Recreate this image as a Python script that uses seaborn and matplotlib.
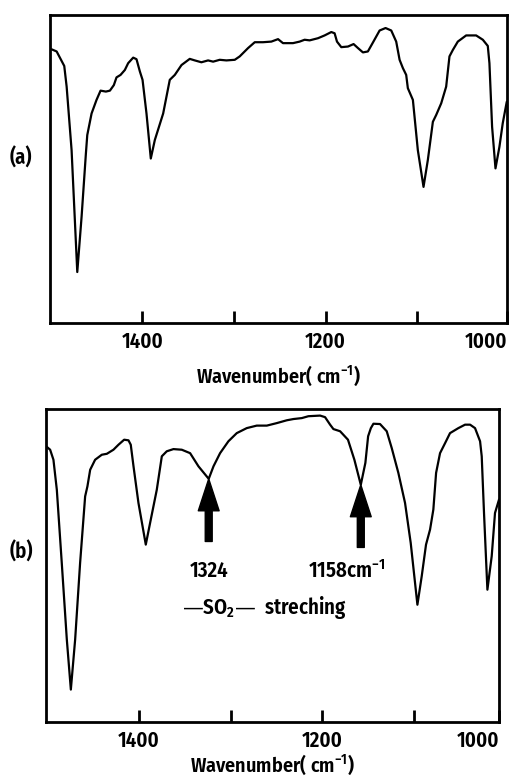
import matplotlib
matplotlib.use("Agg")
import matplotlib.pyplot as plt
import seaborn as sns

# ---- data (wavenumber in cm-1, relative transmittance 0-100) ----
wn_a = [1498.8, 1493.3, 1485.0, 1482.4, 1477.0, 1470.8, 1466.1, 1461.4, 1459.9, 1455.2,
        1449.8, 1445.4, 1439.6, 1435.2, 1430.9, 1428.0, 1423.6, 1418.9, 1415.3, 1409.8,
        1406.2, 1402.5, 1399.6, 1395.3, 1390.6, 1386.2, 1377.1, 1369.9, 1364.4, 1357.1,
        1348.1, 1342.6, 1335.4, 1328.1, 1322.6, 1315.4, 1308.1, 1299.0, 1293.6, 1284.5,
        1277.2, 1268.2, 1259.1, 1251.8, 1246.4, 1235.5, 1228.2, 1222.8, 1217.3, 1208.2,
        1201.0, 1193.7, 1190.1, 1187.5, 1182.8, 1175.5, 1169.4, 1164.6, 1159.2, 1153.8,
        1148.3, 1141.0, 1134.5, 1128.3, 1122.9, 1119.2, 1115.6, 1112.0, 1110.2, 1104.7,
        1099.3, 1093.1, 1088.4, 1082.9, 1079.3, 1073.8, 1068.4, 1064.8, 1061.1, 1055.7,
        1046.6, 1035.7, 1028.4, 1023.0, 1021.2, 1018.3, 1014.6, 1010.3, 1006.7, 1002.3]
tr_a = [88.8, 88.1, 83.4, 76.7, 56.1, 16.6, 34.5, 55.0, 61.0, 68.0,
        72.4, 75.4, 75.1, 75.4, 77.2, 79.7, 80.5, 82.1, 84.3, 86.1,
        85.6, 81.6, 78.9, 68.0, 53.4, 59.4, 68.0, 78.9, 80.5, 83.7,
        85.7, 85.2, 84.6, 85.2, 84.8, 85.4, 85.2, 85.4, 86.5, 89.2,
        91.1, 91.1, 91.3, 92.1, 90.8, 90.8, 91.3, 91.9, 91.7, 92.4,
        93.3, 94.4, 94.0, 91.3, 89.5, 89.7, 90.5, 89.2, 87.8, 88.1,
        91.0, 94.9, 95.7, 94.9, 91.3, 85.4, 82.7, 80.5, 76.2, 72.4,
        56.1, 44.2, 52.9, 65.3, 67.5, 71.3, 76.7, 86.5, 88.6, 91.3,
        93.3, 93.3, 91.9, 89.9, 84.3, 63.7, 50.2, 57.2, 64.8, 71.8]

wn_b = [1500.7, 1497.1, 1493.5, 1489.8, 1484.4, 1478.9, 1474.5, 1469.8, 1464.4, 1458.9,
        1456.4, 1453.4, 1448.0, 1440.7, 1435.2, 1428.0, 1422.5, 1416.3, 1411.6, 1409.1,
        1406.1, 1400.7, 1392.7, 1388.0, 1380.7, 1375.2, 1369.8, 1362.5, 1353.4, 1344.3,
        1335.2, 1324.0, 1318.8, 1311.6, 1302.5, 1293.4, 1282.5, 1271.6, 1260.6, 1249.7,
        1238.8, 1231.5, 1222.4, 1215.2, 1202.4, 1197.0, 1191.5, 1187.9, 1180.6, 1172.0,
        1165.0, 1158.0, 1153.0, 1150.0, 1147.0, 1144.2, 1137.0, 1129.7, 1124.2, 1117.0,
        1109.7, 1103.5, 1096.2, 1091.5, 1086.8, 1082.4, 1078.8, 1075.8, 1071.5, 1066.0,
        1060.6, 1051.5, 1044.2, 1038.7, 1033.3, 1027.8, 1026.0, 1023.5, 1019.8, 1015.1,
        1011.5, 1007.1]
tr_b = [87.8, 86.9, 83.7, 74.1, 50.7, 26.3, 10.3, 26.3, 50.7, 72.0,
        75.2, 80.5, 83.7, 85.3, 85.6, 86.9, 88.5, 90.1, 89.9, 88.5,
        81.6, 69.9, 56.6, 63.5, 74.1, 84.8, 86.4, 87.1, 86.9, 85.8,
        81.6, 77.6, 81.6, 85.8, 89.6, 92.2, 93.8, 94.6, 94.6, 95.4,
        96.3, 96.7, 97.0, 97.6, 97.8, 97.3, 94.9, 93.5, 92.8, 90.1,
        83.7, 75.7, 82.7, 91.2, 93.8, 95.2, 95.1, 92.8, 87.4, 79.5,
        69.9, 57.1, 37.4, 46.5, 56.6, 61.4, 67.8, 79.5, 85.8, 89.0,
        92.2, 93.8, 94.9, 94.9, 93.8, 89.6, 84.8, 66.7, 42.2, 52.9,
        66.7, 71.0]

peak_wn = [1324.0, 1158.0]
peak_labels = ["1324", "1158cm$^{\\mathregular{-1}}$"]
band_label = "\u2014SO$_{\\mathregular{2}}$\u2014  streching"
panel_labels = ["(a)", "(b)"]
tick_values = [1400, 1300, 1200, 1100]
tick_labels = ["1400", "", "1200", "", "1000"]
xlabel = "Wavenumber( cm$^{\\mathregular{-1}}$)"

# ---- style ----
sns.set_theme(style="white")
plt.rcParams['font.family'] = ['Fira Sans Condensed', 'DejaVu Sans']
plt.rcParams['font.weight'] = 600
plt.rcParams['mathtext.default'] = 'regular'
for key in ['text.color', 'axes.labelcolor', 'xtick.color', 'ytick.color', 'axes.edgecolor']:
    plt.rcParams[key] = 'black'

FS = 15

fig = plt.figure(figsize=(5.15, 7.77), dpi=100)
ax_a = fig.add_axes([0.097, 0.584, 0.887, 0.397])
ax_b = fig.add_axes([0.089, 0.071, 0.880, 0.403])

panels = [(ax_a, wn_a, tr_a, (1500.6, 1002.3), 0.797, 8),
          (ax_b, wn_b, tr_b, (1501.8, 1007.1), 0.289, 1)]

for i, (ax, wn, tr, xl, ly, lp) in enumerate(panels):
    sns.lineplot(x=wn, y=tr, ax=ax, color='black', lw=1.6, sort=False, estimator=None)
    ax.set_xlim(*xl)
    ax.set_ylim(0, 100)
    ax.set_yticks([])
    ax.set_ylabel("")
    ax.set_xticks(tick_values + [xl[1]])
    ax.set_xticklabels(tick_labels, fontsize=FS, fontweight=600)
    ax.xaxis.get_major_ticks()[-1].tick1line.set_visible(False)
    ax.get_xticklabels()[-1].set_ha('right')
    ax.tick_params(axis='x', direction='in', length=9, width=2, pad=6,
                   bottom=True, colors='black')
    for s in ax.spines.values():
        s.set_visible(True)
        s.set_color('black')
        s.set_linewidth(2)
    ax.set_xlabel(xlabel, fontsize=14.5, fontweight=600, labelpad=lp)
    fig.text(0.041, ly, panel_labels[i], fontsize=FS, fontweight=600,
             ha='center', va='center')

# arrows in panel (b)
text_dx = [0, -10]
label_y = 48.1
for k, (pw, lab) in enumerate(zip(peak_wn, peak_labels)):
    dip = tr_b[wn_b.index(pw)]
    tail = dip - 20
    ax_b.annotate("", xy=(pw, dip), xytext=(pw, tail),
                  arrowprops=dict(width=5, headwidth=15, headlength=23,
                                  facecolor='black', edgecolor='black', shrink=0))
    ax_b.annotate(lab, xy=(pw, label_y), xytext=(text_dx[k], 0),
                  textcoords='offset points', ha='center', va='center',
                  fontsize=FS, fontweight=600)

ax_b.text(1263, 36.4, band_label, ha='center', va='center', fontsize=FS,
          fontweight=600)

fig.savefig("out.png", dpi=100)
